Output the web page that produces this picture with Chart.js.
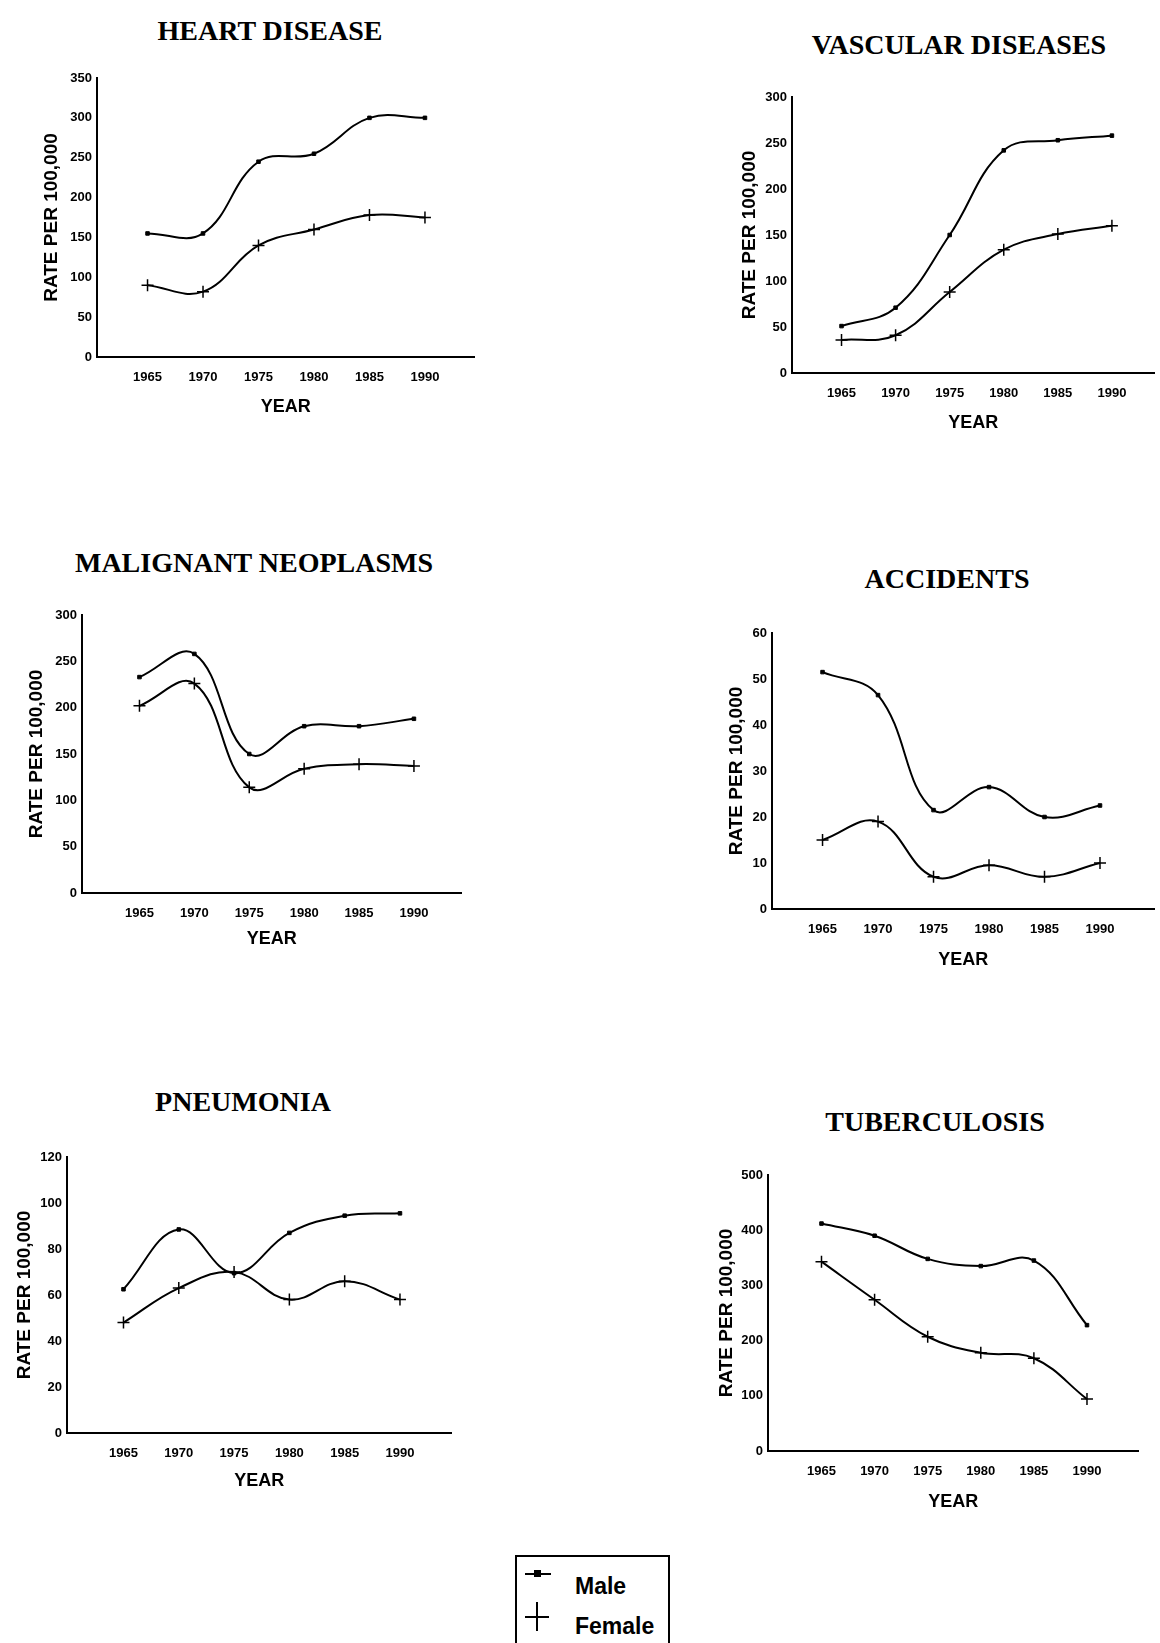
<!DOCTYPE html>
<html>
<head>
<meta charset="utf-8">
<title>Death rates per 100,000, 1965-1990</title>
<script src="https://cdn.jsdelivr.net/npm/chart.js@4.4.1/dist/chart.umd.min.js"></script>
<style>
    html, body { margin: 0; padding: 0; background: #fff; }
    #page { position: relative; width: 1160px; height: 1643px; overflow: hidden; background: #fff; }
    .panel-title {
        position: absolute;
        transform: translate(-50%, -50%);
        font-family: 'Liberation Serif', 'Times New Roman', serif;
        font-weight: bold;
        font-size: 28px;
        line-height: 1;
        color: #000;
        white-space: nowrap;
    }
    canvas { position: absolute; }
    #legend {
        position: absolute;
        left: 515px; top: 1555px;
        width: 151px; height: 120px;
        border: 2px solid #000;
        font-family: 'Liberation Sans', Arial, sans-serif;
        font-weight: bold;
        font-size: 23px;
        color: #000;
    }
    #legend .txt { position: absolute; left: 58px; line-height: 1; transform: translateY(-50%); }
    #legend .bar { position: absolute; background: #000; }
</style>
</head>
<body>
<div id="page">
    <div id="legend">
        <div class="bar" style="left:8px; top:16px; width:26px; height:2px;"></div>
        <div class="bar" style="left:17px; top:13px; width:7px; height:7px;"></div>
        <div class="txt" style="top:29px;">Male</div>
        <div class="bar" style="left:8px; top:59px; width:24px; height:2px;"></div>
        <div class="bar" style="left:19px; top:45px; width:2px; height:29px;"></div>
        <div class="txt" style="top:69px;">Female</div>
    </div>
</div>
<script>
// years on the x axis
const years = [1965, 1970, 1975, 1980, 1985, 1990];

// rate per 100,000
const heartMale = [155, 155, 245, 255, 300, 300];
const heartFemale = [90, 82, 140, 160, 178, 175];
const heartTicks = [0, 50, 100, 150, 200, 250, 300, 350];

const vascularMale = [51, 71, 150, 242, 253, 258];
const vascularFemale = [36, 41, 88, 134, 151, 160];
const vascularTicks = [0, 50, 100, 150, 200, 250, 300];

const neoplasmMale = [233, 258, 150, 180, 180, 188];
const neoplasmFemale = [202, 226, 114, 134, 139, 137];
const neoplasmTicks = [0, 50, 100, 150, 200, 250, 300];

const accidentMale = [51.5, 46.5, 21.5, 26.5, 20, 22.5];
const accidentFemale = [15, 19, 7, 9.5, 7, 10];
const accidentTicks = [0, 10, 20, 30, 40, 50, 60];

const pneumoniaMale = [62.5, 88.5, 69.5, 87, 94.5, 95.5];
const pneumoniaFemale = [48, 63, 70, 58, 66, 58];
const pneumoniaTicks = [0, 20, 40, 60, 80, 100, 120];

const tbMale = [412, 390, 348, 335, 345, 228];
const tbFemale = [343, 274, 207, 178, 168, 94];
const tbTicks = [0, 100, 200, 300, 400, 500];

// page placement of each panel (axis corners in px, title centre)
const panels = [
    { title: 'HEART DISEASE', male: heartMale, female: heartFemale, ticks: heartTicks,
      L: 97, T: 78, B: 357, R: 478, x65: 148, x90: 428, tx: 270, ty: 31, yOff: 45, xOff: 50 },
    { title: 'VASCULAR DISEASES', male: vascularMale, female: vascularFemale, ticks: vascularTicks,
      L: 792, T: 97, B: 373, R: 1158, x65: 842, x90: 1115, tx: 959, ty: 45, yOff: 42, xOff: 50 },
    { title: 'MALIGNANT NEOPLASMS', male: neoplasmMale, female: neoplasmFemale, ticks: neoplasmTicks,
      L: 82, T: 615, B: 893, R: 465, x65: 140, x90: 417, tx: 254, ty: 563, yOff: 45, xOff: 46 },
    { title: 'ACCIDENTS', male: accidentMale, female: accidentFemale, ticks: accidentTicks,
      L: 772, T: 633, B: 909, R: 1158, x65: 823, x90: 1103, tx: 947, ty: 579, yOff: 35, xOff: 51 },
    { title: 'PNEUMONIA', male: pneumoniaMale, female: pneumoniaFemale, ticks: pneumoniaTicks,
      L: 67, T: 1157, B: 1433, R: 455, x65: 124, x90: 403, tx: 243, ty: 1102, yOff: 42, xOff: 48 },
    { title: 'TUBERCULOSIS', male: tbMale, female: tbFemale, ticks: tbTicks,
      L: 768, T: 1175, B: 1451, R: 1142, x65: 822, x90: 1090, tx: 935, ty: 1122, yOff: 41, xOff: 51 }
];

const YW = 64;   // y axis box width
const XH = 64;   // x axis box height
const PT = 14;   // space above plot
const PR = 4;

const tickFont = { family: "'Liberation Sans', Arial, sans-serif", size: 13, weight: 'bold' };
const page = document.getElementById('page');

function addPanel(p) {
    const head = document.createElement('div');
    head.className = 'panel-title';
    head.textContent = p.title;
    head.style.left = p.tx + 'px';
    head.style.top = p.ty + 'px';
    page.appendChild(head);

    const w = YW + (p.R - p.L) + PR;
    const h = PT + (p.B - p.T) + XH;
    const canvas = document.createElement('canvas');
    canvas.width = w;
    canvas.height = h;
    canvas.style.width = w + 'px';
    canvas.style.height = h + 'px';
    canvas.style.left = (p.L - YW) + 'px';
    canvas.style.top = (p.T - PT) + 'px';
    page.appendChild(canvas);

    // stretch the year axis past 1965 and 1990 like the original
    const perPx = 25 / (p.x90 - p.x65);
    const xMin = 1965 - (p.x65 - p.L) * perPx;
    const xMax = 1990 + (p.R - p.x90) * perPx;

    new Chart(canvas, {
        type: 'line',
        data: {
            datasets: [
                {
                    label: 'Male',
                    data: years.map((y, i) => ({ x: y, y: p.male[i] })),
                    borderColor: '#000',
                    borderWidth: 2,
                    backgroundColor: '#000',
                    pointStyle: 'rect',
                    pointRadius: 2.5,
                    pointBorderWidth: 1,
                    tension: 0.4,
                    fill: false
                },
                {
                    label: 'Female',
                    data: years.map((y, i) => ({ x: y, y: p.female[i] })),
                    borderColor: '#000',
                    borderWidth: 2,
                    backgroundColor: '#000',
                    pointStyle: 'cross',
                    pointRadius: 6,
                    pointBorderWidth: 1.5,
                    tension: 0.4,
                    fill: false
                }
            ]
        },
        options: {
            responsive: false,
            animation: false,
            layout: { padding: { top: PT, right: PR, left: 0, bottom: 0 } },
            plugins: { legend: { display: false }, tooltip: { enabled: false } },
            scales: {
                x: {
                    type: 'linear',
                    min: xMin,
                    max: xMax,
                    afterBuildTicks: s => { s.ticks = years.map(v => ({ value: v })); },
                    afterFit: s => { s.height = XH; },
                    grid: { display: false, drawTicks: false },
                    border: { display: true, color: '#000', width: 2 },
                    ticks: { color: '#000', font: tickFont, padding: 13, autoSkip: false, maxRotation: 0,
                             callback: v => String(v) },
                    title: { display: true, text: 'YEAR', color: '#000',
                             font: { family: "'Liberation Sans', Arial, sans-serif", size: 18, weight: 'bold' },
                             padding: { top: 0, bottom: XH - p.xOff - 10.8 } }
                },
                y: {
                    min: 0,
                    max: p.ticks[p.ticks.length - 1],
                    afterBuildTicks: s => { s.ticks = p.ticks.map(v => ({ value: v })); },
                    afterFit: s => { s.width = YW; },
                    grid: { display: false, drawTicks: false },
                    border: { display: true, color: '#000', width: 2 },
                    ticks: { color: '#000', font: tickFont, padding: 5, callback: v => String(v) },
                    title: { display: true, text: 'RATE PER 100,000', color: '#000',
                             font: { family: "'Liberation Sans', Arial, sans-serif", size: 19, weight: 'bold' },
                             padding: { top: YW - p.yOff - 11.4, bottom: 0 } }
                }
            }
        }
    });
}

panels.forEach(addPanel);
</script>
</body>
</html>
